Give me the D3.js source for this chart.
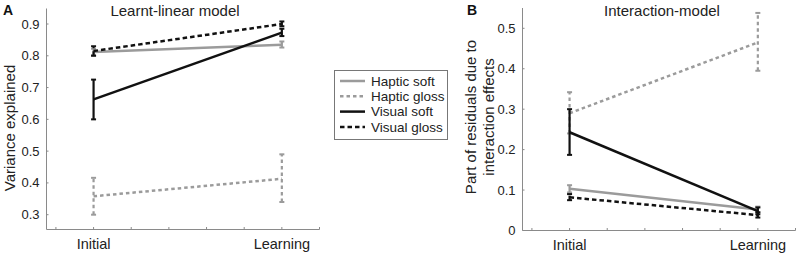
<!DOCTYPE html>
<html><head><meta charset="utf-8">
<script src="https://cdn.jsdelivr.net/npm/d3@7"></script>
<style>body{margin:0;background:#fff}svg{display:block}text{font-family:"Liberation Sans",Arial,sans-serif}</style>
</head><body>
<svg id="c" width="805" height="253"></svg>
<script>
const categories = ["Initial", "Learning"];
const seriesNames = ["Haptic soft", "Haptic gloss", "Visual soft", "Visual gloss"];
// Panel A: Learnt-linear model (mean, low, high)
const A_hapticSoft = [[0.812, 0.802, 0.822], [0.835, 0.826, 0.845]];
const A_hapticGloss = [[0.358, 0.300, 0.416], [0.413, 0.340, 0.490]];
const A_visualSoft = [[0.663, 0.600, 0.725], [0.873, 0.862, 0.885]];
const A_visualGloss = [[0.815, 0.800, 0.830], [0.900, 0.893, 0.908]];
// Panel B: Interaction-model
const B_hapticSoft = [[0.103, 0.094, 0.112], [0.052, 0.045, 0.059]];
const B_hapticGloss = [[0.290, 0.240, 0.342], [0.465, 0.395, 0.538]];
const B_visualSoft = [[0.243, 0.187, 0.300], [0.048, 0.040, 0.057]];
const B_visualGloss = [[0.082, 0.075, 0.090], [0.038, 0.032, 0.045]];
const A_yTicks = [0.3, 0.4, 0.5, 0.6, 0.7, 0.8, 0.9];
const B_yTicks = [0, 0.1, 0.2, 0.3, 0.4, 0.5];
const xTicks = [0.8, 1.0, 1.2, 1.4, 1.6, 1.8, 2.0, 2.2];

const styles = [
  {color:"#9b9b9b", dash:null},
  {color:"#9b9b9b", dash:"3.5,3"},
  {color:"#111", dash:null},
  {color:"#111", dash:"4.5,3"}
];
const svg = d3.select("#c");

function panel(opt){
  const g = svg.append("g");
  const x = d3.scaleLinear().domain(opt.xDomain).range(opt.xRange);
  const y = d3.scaleLinear().domain(opt.yDomain).range(opt.yRange);
  const axisColor = "#8a8a8a";
  const x0 = opt.xRange[0], yb = opt.yBottom;
  g.append("line").attr("x1", x0).attr("x2", x0)
    .attr("y1", yb).attr("y2", opt.yTop).attr("stroke", axisColor).attr("stroke-width", 1);
  g.append("line").attr("x1", x0).attr("x2", opt.xRange[1])
    .attr("y1", yb).attr("y2", yb).attr("stroke", axisColor).attr("stroke-width", 1);
  xTicks.forEach(t => {
    g.append("line").attr("x1", x(t)).attr("x2", x(t)).attr("y1", yb).attr("y2", yb-2.5)
      .attr("stroke", axisColor);
  });
  opt.yTicks.forEach(t => {
    g.append("line").attr("x1", x0).attr("x2", x0+2).attr("y1", y(t)).attr("y2", y(t))
      .attr("stroke", axisColor);
    g.append("text").attr("x", x0-7).attr("y", y(t)).attr("dy", "0.35em")
      .attr("text-anchor", "end").attr("font-size", 13).attr("fill", "#222").text(t === 0 ? "0" : d3.format(".1f")(t));
  });
  categories.forEach((c, i) => {
    g.append("text").attr("x", x(i+1)).attr("y", yb+19).attr("text-anchor", "middle")
      .attr("font-size", 14.5).attr("fill", "#222").text(c);
  });
  g.append("text").attr("x", opt.titleX).attr("y", 15.5).attr("text-anchor", "middle")
    .attr("font-size", 15).attr("fill", "#222").text(opt.title);
  g.append("text").attr("x", opt.letterX).attr("y", 15).attr("font-size", 14).attr("font-weight", "bold")
    .attr("fill", "#111").text(opt.letter);
  opt.yLabel.forEach((l, i) => {
    g.append("text").attr("transform", `translate(${opt.yLabelX[i]},${opt.yLabelY}) rotate(-90)`)
      .attr("text-anchor", "middle").attr("font-size", 15).attr("fill", "#222").text(l);
  });
  const order = [1, 0, 3, 2];
  order.forEach(si => {
    const d = opt.data[si], s = styles[si];
    d.forEach((v, i) => {
      const cx = x(i+1);
      g.append("line").attr("x1", cx).attr("x2", cx).attr("y1", y(v[1])).attr("y2", y(v[2]))
        .attr("stroke", s.color).attr("stroke-width", 2.2).attr("stroke-dasharray", s.dash);
      [v[1], v[2]].forEach(e => {
        g.append("line").attr("x1", cx-2.5).attr("x2", cx+2.5).attr("y1", y(e)).attr("y2", y(e))
          .attr("stroke", s.color).attr("stroke-width", 2);
      });
    });
    g.append("path").datum(d)
      .attr("d", d3.line().x((v, i) => x(i+1)).y(v => y(v[0])))
      .attr("fill", "none").attr("stroke", s.color).attr("stroke-width", 2.5)
      .attr("stroke-dasharray", s.dash);
  });
}

panel({
  xDomain:[0.75, 2.2], xRange:[46.5, 319.5],
  yDomain:[0.3, 0.9], yRange:[214.7, 24], yTop:8.5, yBottom:229.5,
  yTicks:A_yTicks,
  data:[A_hapticSoft, A_hapticGloss, A_visualSoft, A_visualGloss],
  title:"Learnt-linear model", titleX:175, letter:"A", letterX:3,
  yLabel:["Variance explained"], yLabelX:[15], yLabelY:128
});

panel({
  xDomain:[0.75, 2.2], xRange:[522.5, 795.5],
  yDomain:[0, 0.5], yRange:[230.5, 28.3], yTop:8, yBottom:230.5,
  yTicks:B_yTicks,
  data:[B_hapticSoft, B_hapticGloss, B_visualSoft, B_visualGloss],
  title:"Interaction-model", titleX:662, letter:"B", letterX:467,
  yLabel:["Part of residuals due to", "interaction effects"], yLabelX:[476, 494], yLabelY:117
});

const lg = svg.append("g");
lg.append("rect").attr("x", 334.5).attr("y", 70.5).attr("width", 113).attr("height", 69)
  .attr("fill", "#fff").attr("stroke", "#777").attr("stroke-width", 1);
seriesNames.forEach((n, i) => {
  const yy = 81 + i*15.3;
  lg.append("line").attr("x1", 340).attr("x2", 365).attr("y1", yy).attr("y2", yy)
    .attr("stroke", styles[i].color).attr("stroke-width", 2.5).attr("stroke-dasharray", styles[i].dash);
  lg.append("text").attr("x", 371).attr("y", yy).attr("dy", "0.35em").attr("font-size", 13.5)
    .attr("fill", "#222").text(n);
});
</script>
</body></html>
